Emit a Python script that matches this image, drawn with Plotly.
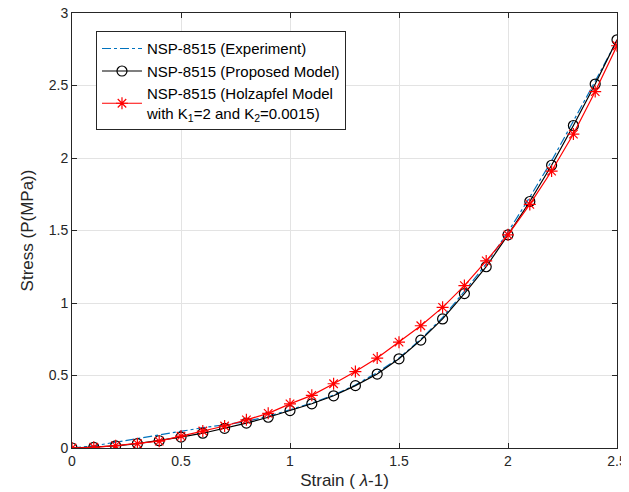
import plotly.graph_objects as go

strain = [0.0, 0.1, 0.2, 0.3, 0.4, 0.5, 0.6, 0.7, 0.8, 0.9, 1.0, 1.1, 1.2,
          1.3, 1.4, 1.5, 1.6, 1.7, 1.8, 1.9, 2.0, 2.1, 2.2, 2.3, 2.4, 2.5]

experiment = [0.0, 0.015, 0.04, 0.065, 0.092, 0.118, 0.14, 0.16, 0.183, 0.218,
              0.262, 0.31, 0.365, 0.435, 0.52, 0.62, 0.75, 0.9, 1.08, 1.27,
              1.49, 1.73, 1.98, 2.25, 2.53, 2.81]

proposed = [0.0, 0.005, 0.015, 0.03, 0.05, 0.075, 0.102, 0.136, 0.172, 0.212,
            0.258, 0.305, 0.36, 0.43, 0.51, 0.615, 0.744, 0.89, 1.065, 1.25,
            1.47, 1.70, 1.95, 2.224, 2.51, 2.815]

holzapfel = [0.0, 0.005, 0.016, 0.03, 0.047, 0.082, 0.117, 0.152, 0.194, 0.239,
             0.304, 0.363, 0.443, 0.527, 0.62, 0.73, 0.843, 0.97, 1.12, 1.29,
             1.47, 1.68, 1.91, 2.165, 2.458, 2.774]

x_ticks = [0, 0.5, 1, 1.5, 2, 2.5]
x_tick_labels = ["0", "0.5", "1", "1.5", "2", "2.5"]
y_ticks = [0, 0.5, 1, 1.5, 2, 2.5, 3]
y_tick_labels = ["0", "0.5", "1", "1.5", "2", "2.5", "3"]

FONT = "Liberation Sans, Arial, sans-serif"

fig = go.Figure()
fig.add_trace(go.Scatter(
    x=strain, y=experiment, mode="lines",
    name="NSP-8515 (Experiment)",
    line=dict(color="#0072BD", width=1.2, dash="dashdot"),
))
fig.add_trace(go.Scatter(
    x=strain, y=proposed, mode="lines+markers",
    name="NSP-8515 (Proposed Model)",
    line=dict(color="black", width=1.2),
    marker=dict(symbol="circle-open", size=10, color="black", line=dict(width=1.2)),
))
fig.add_trace(go.Scatter(
    x=strain, y=holzapfel, mode="lines+markers",
    name="NSP-8515 (Holzapfel Model<br>with K<sub>1</sub>=2 and K<sub>2</sub>=0.0015)",
    line=dict(color="#FF0000", width=1.2),
    marker=dict(symbol="asterisk-open", size=10, color="#FF0000", line=dict(width=1.2, color="#FF0000")),
))

axis_common = dict(
    showline=True, linecolor="#262626", linewidth=1, mirror="ticks",
    ticks="inside", ticklen=5, tickcolor="#262626",
    showgrid=True, gridcolor="#E3E3E3", gridwidth=1,
    zeroline=False, automargin=False, ticklabeloverflow="allow",
    tickfont=dict(family=FONT, size=14, color="#262626"),
)

fig.update_xaxes(
    range=[0, 2.5], tickvals=x_ticks, ticktext=x_tick_labels,
    title=dict(text="Strain ( <i>λ</i>-1)", font=dict(family=FONT, size=17, color="#262626"), standoff=6),
    **axis_common,
)
fig.update_yaxes(
    range=[0, 3], tickvals=y_ticks, ticktext=y_tick_labels,
    title=dict(text="Stress (P(MPa))", font=dict(family=FONT, size=17, color="#262626"), standoff=10),
    **axis_common,
)

# page body adds an 8px offset, so the figure is 8px smaller than the window
fig.update_layout(
    width=621, height=484,
    margin=dict(l=64, r=12, t=5, b=44),
    plot_bgcolor="white", paper_bgcolor="white",
    font=dict(family=FONT, size=14, color="black"),
    showlegend=True,
    legend=dict(
        x=0.044, y=0.958, xanchor="left", yanchor="top",
        bgcolor="white", bordercolor="#262626", borderwidth=1,
        font=dict(family=FONT, size=15, color="black"),
        tracegroupgap=0, itemwidth=40,
    ),
)

fig.write_html("out.html")
